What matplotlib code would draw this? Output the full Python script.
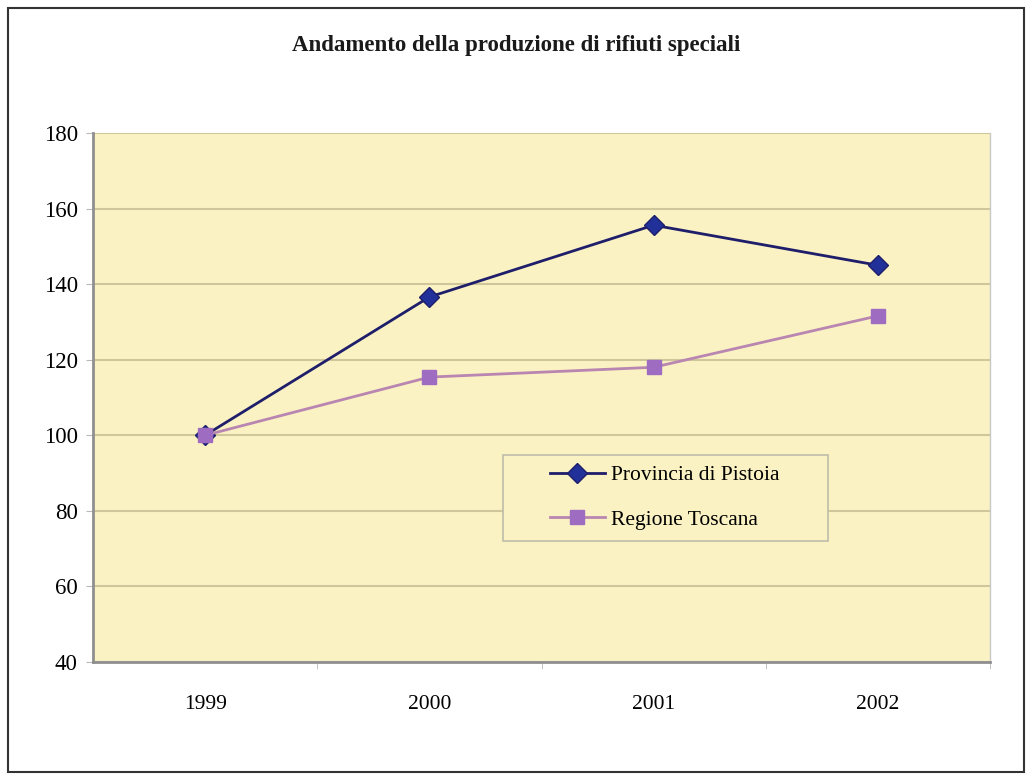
import matplotlib
matplotlib.use("Agg")
import matplotlib.pyplot as plt
from matplotlib.patches import Rectangle

years = ["1999", "2000", "2001", "2002"]
pistoia = [100, 136.6, 155.6, 145]
toscana = [100, 115.4, 118, 131.6]
yticks = [40, 60, 80, 100, 120, 140, 160, 180]

plt.rcParams['font.family'] = ['Liberation Serif', 'DejaVu Serif']

W, H = 1032, 774
L, R, T, B = 93, 990, 133, 662

fig = plt.figure(figsize=(W / 100, H / 100), dpi=100)
fig.patch.set_facecolor('white')
ax = fig.add_axes([L / W, 1 - B / H, (R - L) / W, (B - T) / H])
ax.set_facecolor('#FBF2C4')

x = list(range(len(years)))
ax.plot(x, pistoia, color='#1E1E6A', lw=2, marker='D', ms=10,
        mfc='#22319A', mec='#1E1E6A', label='Provincia di Pistoia', zorder=3)
ax.plot(x, toscana, color='#B886B0', lw=2, marker='s', ms=10,
        mfc='#9E6CC0', mec='#9E6CC0', label='Regione Toscana', zorder=3)

ax.set_xlim(-0.5, 3.5)
ax.set_ylim(40, 180)
ax.set_yticks(yticks)
ax.set_yticklabels([str(v) for v in yticks], fontsize=16.5)
ax.set_xticks(x)
ax.set_xticklabels(years, fontsize=15.5)
ax.set_xticks([0.5, 1.5, 2.5, 3.5], minor=True)
ax.tick_params(axis='x', which='major', length=0, pad=24)
ax.tick_params(axis='x', which='minor', length=5, color='#B8B8B8')
ax.tick_params(axis='y', length=5, color='#B8B8B8', pad=6)
ax.grid(axis='y', color='#CFC69C', lw=1.5)
ax.set_axisbelow(True)
for s in ['left', 'bottom']:
    ax.spines[s].set_color('#8F8F8F')
    ax.spines[s].set_linewidth(2)
ax.spines['right'].set_color('#C8C8C8')
ax.spines['right'].set_linewidth(1)
ax.spines['top'].set_visible(False)

def ax_xy(px, py):
    return (px - L) / (R - L), (B - py) / (B - T)

# legend frame
lx0, ly0 = ax_xy(503, 541)
lx1, ly1 = ax_xy(828, 455)
ax.add_patch(Rectangle((lx0, ly0), lx1 - lx0, ly1 - ly0, transform=ax.transAxes,
                       facecolor='#FBF2C4', edgecolor='#BDBDAA', lw=1.2, zorder=4))
anc = ax_xy(550, 465)
leg = ax.legend(loc='upper left', bbox_to_anchor=anc, fontsize=15.5, frameon=False,
                handlelength=2.55, borderpad=0, borderaxespad=0, labelspacing=1.15,
                handletextpad=0.3)
leg.set_zorder(5)

fig.text(0.5, 1 - 45 / H, "Andamento della produzione di rifiuti speciali",
         ha='center', va='center', fontsize=16.5, fontweight='bold', color='#1A1A1A')

fig.patches.append(Rectangle((8 / W, 0.002), (1024 - 8) / W, 1 - 8 / H - 0.002,
                             transform=fig.transFigure, fill=False, ec='#333333', lw=1.5))

fig.savefig("out.png", dpi=100)
